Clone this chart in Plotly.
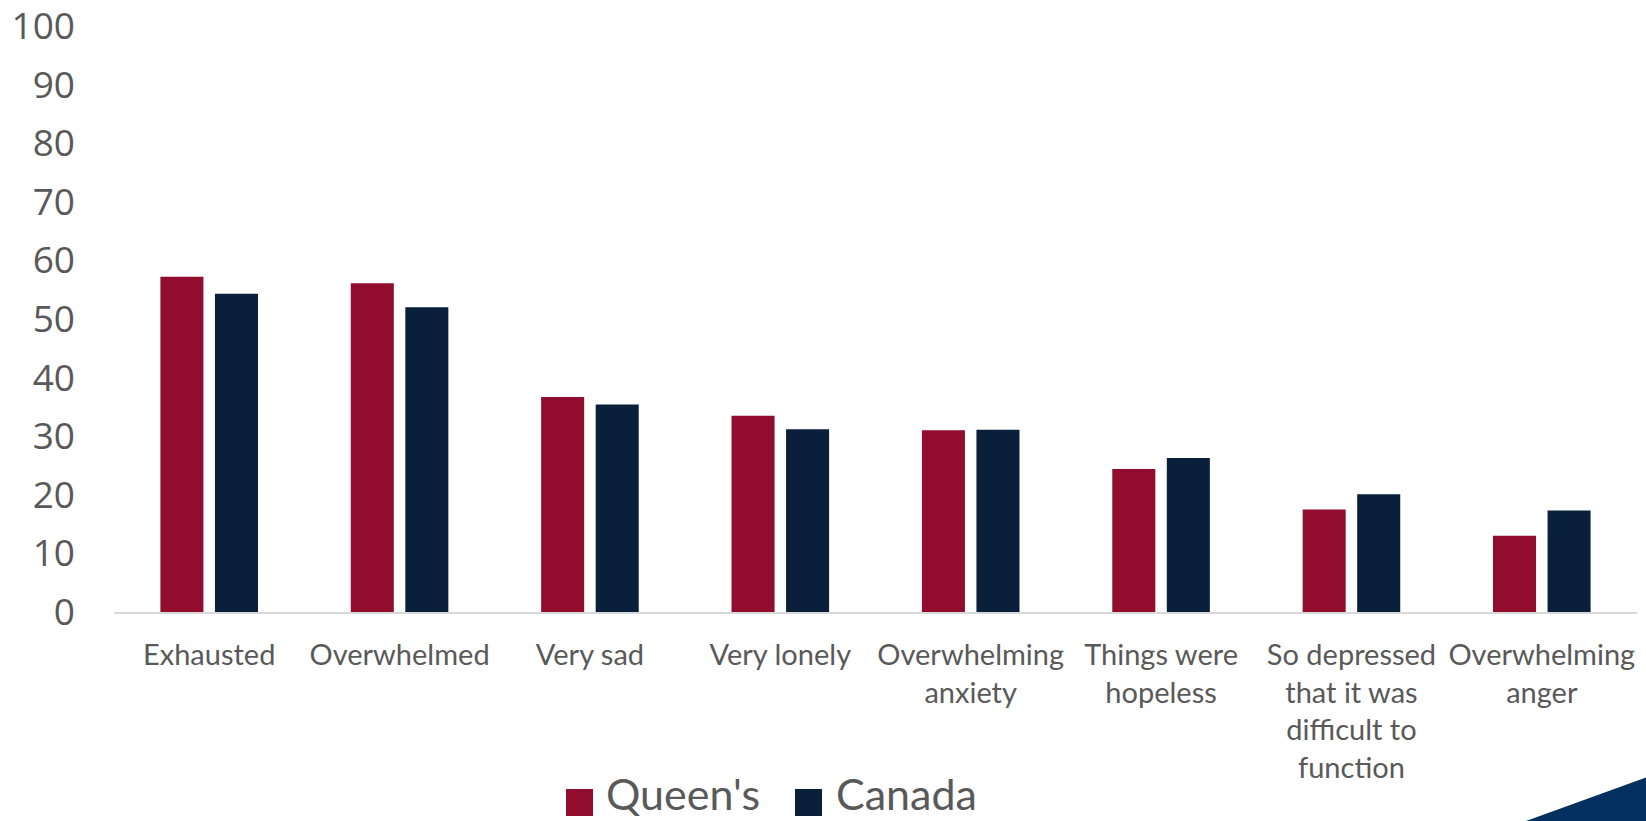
import plotly.graph_objects as go

# Share of students reporting each feeling in the past 12 months (%)
categories = [
    "Exhausted",
    "Overwhelmed",
    "Very sad",
    "Very lonely",
    "Overwhelming<br>anxiety",
    "Things were<br>hopeless",
    "So depressed<br>that it was<br>difficult to<br>function",
    "Overwhelming<br>anger",
]
queens = [57.2, 56.1, 36.7, 33.5, 31.0, 24.4, 17.5, 13.0]
canada = [54.3, 52.0, 35.4, 31.2, 31.1, 26.3, 20.1, 17.3]
series_names = ["Queen's", "Canada"]
y_ticks = list(range(0, 101, 10))

QUEENS_RED = "#920c2d"
CANADA_NAVY = "#0a1f3a"
TEXT_GREY = "#595959"

fig = go.Figure()
fig.add_trace(go.Bar(x=categories, y=queens, name=series_names[0],
                     marker=dict(color=QUEENS_RED, line=dict(width=0))))
fig.add_trace(go.Bar(x=categories, y=canada, name=series_names[1],
                     marker=dict(color=CANADA_NAVY, line=dict(width=0))))

W, H = 1646, 821
L, R, T, B = 114, 9, 26, 209
pw, ph = W - L - R, H - T - B


def px_to_paper(px, py):
    return (px - L) / pw, (H - B - py) / ph


# Custom legend: large square swatches with labels
legend_items = [(566, 604, series_names[0], QUEENS_RED),
                (795, 834, series_names[1], CANADA_NAVY)]
shapes = []
annotations = []
for sq_left, txt_left, label, color in legend_items:
    x0, y0 = px_to_paper(sq_left, 816)
    x1, y1 = px_to_paper(sq_left + 27, 789)
    shapes.append(dict(type="rect", xref="paper", yref="paper",
                       x0=x0, x1=x1, y0=y0, y1=y1,
                       fillcolor=color, line=dict(width=0)))
    ax, ay = px_to_paper(txt_left, 821)
    annotations.append(dict(text=label, xref="paper", yref="paper",
                            x=ax, y=ay, xanchor="left", yanchor="bottom",
                            showarrow=False,
                            font=dict(family="Lato", size=43, color=TEXT_GREY)))

# Corner accent
cx0, cy0 = px_to_paper(1526, 821)
cx1, cy1 = px_to_paper(1650, 776)
cx2, cy2 = px_to_paper(1650, 825)
shapes.append(dict(type="path", xref="paper", yref="paper",
                   path=f"M {cx0},{cy0} L {cx1},{cy1} L {cx2},{cy2} Z",
                   fillcolor="#04305f", line=dict(width=0), layer="above"))

fig.update_layout(
    width=W, height=H,
    margin=dict(l=L, r=R, t=T, b=B, pad=0, autoexpand=False),
    paper_bgcolor="white", plot_bgcolor="white",
    barmode="group", bargap=0.427, bargroupgap=0.211,
    showlegend=False,
    shapes=shapes, annotations=annotations,
    xaxis=dict(
        showgrid=False, showline=True, linecolor="#d9d9d9", linewidth=2,
        ticks="", ticklabelstandoff=16, automargin=False,
        ticklabeloverflow="allow",
        tickfont=dict(family="Lato", size=29, color=TEXT_GREY),
        fixedrange=True,
    ),
    yaxis=dict(
        range=[0, 100], tickvals=y_ticks, showgrid=False, showline=False,
        zeroline=False, ticks="", ticklabelstandoff=38, automargin=False,
        ticklabeloverflow="allow",
        tickfont=dict(family="Open Sans", size=37, color=TEXT_GREY),
        fixedrange=True,
    ),
)

fig.write_html("out.html", config={"displayModeBar": False})
